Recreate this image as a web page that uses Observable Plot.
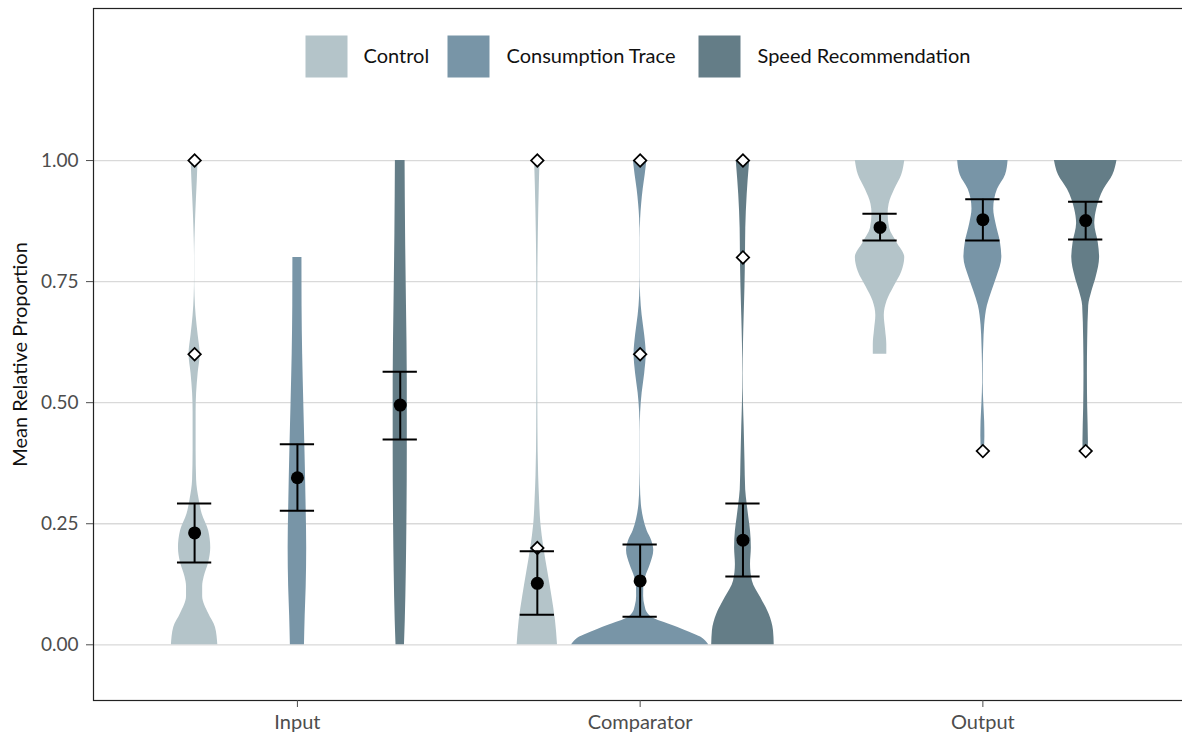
<!DOCTYPE html>
<html>
<head>
<meta charset="utf-8">
<script src="https://cdn.jsdelivr.net/npm/d3@7"></script>
<script src="https://cdn.jsdelivr.net/npm/@observablehq/plot@0.6"></script>
<style>
  html, body { margin: 0; padding: 0; background: #fff; overflow: hidden; }
  #chart svg { display: block; max-width: none !important; }
</style>
</head>
<body>
<div id="chart"></div>
<script>
// Feedback stages (x axis) and experimental conditions (dodged within each stage)
const stages = ["Input", "Comparator", "Output"];
const conditions = ["Control", "Consumption Trace", "Speed Recommendation"];
const conditionColors = ["#b4c4c9", "#7895a7", "#647d87"];
const yTicks = [0, 0.25, 0.5, 0.75, 1];

// Means and interval bounds, one value per condition
const meanInput = [0.231, 0.345, 0.495];
const lowerInput = [0.170, 0.277, 0.424];
const upperInput = [0.292, 0.414, 0.564];

const meanComparator = [0.127, 0.132, 0.216];
const lowerComparator = [0.062, 0.058, 0.141];
const upperComparator = [0.193, 0.207, 0.292];

const meanOutput = [0.862, 0.878, 0.876];
const lowerOutput = [0.835, 0.835, 0.837];
const upperOutput = [0.890, 0.920, 0.915];

// Outlying participant values
const outlierStage = ["Input", "Input", "Comparator", "Comparator", "Comparator", "Comparator", "Comparator", "Comparator", "Output", "Output"];
const outlierCondition = ["Control", "Control", "Control", "Control", "Consumption Trace", "Consumption Trace", "Speed Recommendation", "Speed Recommendation", "Consumption Trace", "Speed Recommendation"];
const outlierValue = [1.0, 0.6, 1.0, 0.2, 1.0, 0.6, 1.0, 0.8, 0.4, 0.4];

// Violin density profiles: [proportion, relative density]
const densityInputControl = [[0, 23], [0.036, 20.7], [0.064, 14], [0.10, 8], [0.12, 8], [0.14, 9.5], [0.17, 14], [0.20, 16], [0.235, 14], [0.27, 7.5], [0.30, 4.5], [0.34, 2], [0.40, 1.5], [0.44, 1.5], [0.48, 1.5], [0.52, 2], [0.56, 3.5], [0.60, 5.5], [0.64, 3.5], [0.68, 1.5], [0.72, 0.4], [0.76, 0.1], [0.80, 0.1], [0.84, 0.4], [0.88, 1], [0.92, 1.8], [0.96, 2.7], [1.0, 3.4]];
const densityInputTrace = [[0, 7], [0.06, 7.7], [0.12, 8.7], [0.20, 9.2], [0.30, 8.5], [0.40, 7.5], [0.50, 6.3], [0.60, 5.2], [0.70, 4.6], [0.80, 4.5]];
const densityInputSpeed = [[0, 4.2], [0.05, 5], [0.15, 6], [0.25, 6.6], [0.40, 7], [0.55, 7], [0.70, 6.2], [0.85, 5.3], [1.0, 4.8]];

const densityComparatorControl = [[0, 20], [0.05, 18], [0.10, 14.5], [0.15, 10.5], [0.20, 6.5], [0.25, 3.5], [0.30, 2.2], [0.35, 1.3], [0.45, 0.6], [0.60, 0.4], [0.75, 0.5], [0.85, 1], [0.95, 2], [1.0, 2.7]];
const densityComparatorTrace = [[0, 68], [0.008, 65], [0.016, 60], [0.026, 49], [0.036, 37.5], [0.046, 24], [0.055, 13], [0.065, 7.5], [0.08, 4.8], [0.10, 3.5], [0.12, 3.6], [0.14, 5.5], [0.165, 10], [0.195, 13.5], [0.215, 11.5], [0.235, 7], [0.26, 3.5], [0.29, 1.2], [0.33, 0.3], [0.38, 0.1], [0.44, 0.1], [0.48, 0.5], [0.52, 2], [0.56, 4.5], [0.60, 6], [0.64, 4.5], [0.68, 2], [0.72, 0.5], [0.76, 0.1], [0.84, 0.1], [0.88, 0.5], [0.91, 1.5], [0.94, 3], [0.97, 5], [1.0, 6.7]];
const densityComparatorSpeed = [[0, 31], [0.029, 30.3], [0.063, 26], [0.097, 17.7], [0.132, 9.3], [0.166, 7.5], [0.20, 8.3], [0.235, 7.5], [0.263, 5.8], [0.29, 4.2], [0.32, 2.7], [0.38, 2], [0.45, 1.2], [0.50, 0.5], [0.56, 0.2], [0.62, 0.5], [0.68, 1.2], [0.74, 2], [0.80, 2.5], [0.86, 2.8], [0.93, 4.2], [0.99, 6.3], [1.0, 6.7]];

const densityOutputControl = [[0.60, 6.7], [0.62, 6.7], [0.65, 5.5], [0.68, 4.2], [0.71, 7], [0.74, 14], [0.77, 21.5], [0.80, 24.5], [0.83, 17], [0.86, 9.5], [0.89, 8], [0.91, 9], [0.94, 14.5], [0.97, 21.5], [1.0, 24.5]];
const densityOutputTrace = [[0.40, 1.5], [0.43, 2], [0.46, 1.8], [0.50, 0.9], [0.54, 0.3], [0.58, 0.4], [0.62, 0.9], [0.66, 1.8], [0.70, 4.5], [0.73, 9], [0.76, 14], [0.80, 18.8], [0.83, 17.5], [0.87, 13], [0.90, 10.8], [0.94, 14.5], [0.97, 22.5], [1.0, 25]];
const densityOutputSpeed = [[0.40, 2.5], [0.42, 2.7], [0.49, 2], [0.56, 1.7], [0.63, 2], [0.70, 3], [0.73, 6.2], [0.76, 10.5], [0.80, 13.8], [0.83, 12.5], [0.87, 9], [0.90, 11], [0.94, 18], [0.97, 27], [1.0, 31]];

// ---- assemble tables ----
const DODGE = 0.3;        // offset between conditions within a stage
const HALF_WIDTH = 0.2;   // half width of the widest violin, in stage units
const CAP = 0.05;         // half width of interval caps

const position = (stage, condition) =>
  stages.indexOf(stage) + 1 + (conditions.indexOf(condition) - 1) * DODGE;

const profiles = [
  ["Input", "Control", densityInputControl],
  ["Input", "Consumption Trace", densityInputTrace],
  ["Input", "Speed Recommendation", densityInputSpeed],
  ["Comparator", "Control", densityComparatorControl],
  ["Comparator", "Consumption Trace", densityComparatorTrace],
  ["Comparator", "Speed Recommendation", densityComparatorSpeed],
  ["Output", "Control", densityOutputControl],
  ["Output", "Consumption Trace", densityOutputTrace],
  ["Output", "Speed Recommendation", densityOutputSpeed]
];
const maxDensity = d3.max(profiles, (p) => d3.max(p[2], (d) => d[1]));

const violinRows = profiles.flatMap(([stage, condition, dens]) =>
  dens.slice().sort((a, b) => a[0] - b[0]).map(([value, density]) => ({
    key: stage + "|" + condition,
    stage, condition, value,
    pos: position(stage, condition),
    half: (density / maxDensity) * HALF_WIDTH
  }))
);

const summaryByStage = {
  Input: [meanInput, lowerInput, upperInput],
  Comparator: [meanComparator, lowerComparator, upperComparator],
  Output: [meanOutput, lowerOutput, upperOutput]
};
const summaryRows = stages.flatMap((stage) =>
  conditions.map((condition, j) => ({
    stage, condition,
    pos: position(stage, condition),
    mean: summaryByStage[stage][0][j],
    lower: summaryByStage[stage][1][j],
    upper: summaryByStage[stage][2][j]
  }))
);

const outlierRows = outlierValue.map((value, i) => ({
  value,
  pos: position(outlierStage[i], outlierCondition[i])
}));

// ---- legend layout (pixel offsets from the top-left of the panel) ----
const legendKeyCenter = [233, 375, 626];
const legendTextStart = [270, 413, 664];
const legendMiddle = 48;

const legendMarks = conditions.flatMap((c, i) => [
  Plot.dot([c], {
    frameAnchor: "top-left", dx: legendKeyCenter[i], dy: legendMiddle,
    symbol: "square", r: 42 / Math.sqrt(Math.PI), fill: conditionColors[i]
  }),
  Plot.text([c], {
    frameAnchor: "top-left", dx: legendTextStart[i], dy: legendMiddle,
    text: (d) => d, textAnchor: "start", lineAnchor: "middle", fontSize: 20, fill: "#111"
  })
]);

const chart = Plot.plot({
  width: 1190,
  height: 732,
  marginLeft: 93,
  marginRight: 2,
  marginTop: 8,
  marginBottom: 32,
  style: { fontFamily: "Lato, 'Noto Sans', sans-serif", background: "#fff" },
  x: { domain: [0.405, 3.6], axis: null },
  y: { domain: [-0.115, 1.314], axis: null },
  color: { domain: conditions, range: conditionColors },
  marks: [
    Plot.gridY(yTicks, { stroke: "#d9d9d9", strokeOpacity: 1, strokeWidth: 1.3 }),
    Plot.areaX(violinRows, {
      y: "value",
      x1: (d) => d.pos - d.half,
      x2: (d) => d.pos + d.half,
      z: "key",
      fill: "condition",
      fillOpacity: 1,
      curve: "monotone-y"
    }),
    Plot.dot(outlierRows, {
      x: "pos", y: "value", symbol: "square", rotate: 45, r: 5,
      fill: "white", stroke: "black", strokeWidth: 1.7
    }),
    Plot.ruleX(summaryRows, { x: "pos", y1: "lower", y2: "upper", stroke: "black", strokeWidth: 2 }),
    Plot.ruleY(summaryRows, { y: "lower", x1: (d) => d.pos - CAP, x2: (d) => d.pos + CAP, stroke: "black", strokeWidth: 2 }),
    Plot.ruleY(summaryRows, { y: "upper", x1: (d) => d.pos - CAP, x2: (d) => d.pos + CAP, stroke: "black", strokeWidth: 2 }),
    Plot.dot(summaryRows, { x: "pos", y: "mean", r: 6.5, fill: "black" }),
    ...legendMarks,
    Plot.frame({ stroke: "#222", strokeWidth: 1.2 }),
    Plot.axisY({
      ticks: yTicks, tickFormat: d3.format(".2f"), tickSize: 7, tickPadding: 8,
      fontSize: 19, color: "#4d4d4d", label: null
    }),
    Plot.axisX({
      ticks: [1, 2, 3], tickFormat: (i) => stages[i - 1], tickSize: 7, tickPadding: 7,
      fontSize: 20, color: "#4d4d4d", label: null
    }),
    Plot.text(["Mean Relative Proportion"], {
      frameAnchor: "left", dx: -73, rotate: -90, text: (d) => d,
      textAnchor: "middle", lineAnchor: "middle", fontSize: 20, fill: "#111"
    })
  ]
});

document.getElementById("chart").appendChild(chart);
</script>
</body>
</html>
